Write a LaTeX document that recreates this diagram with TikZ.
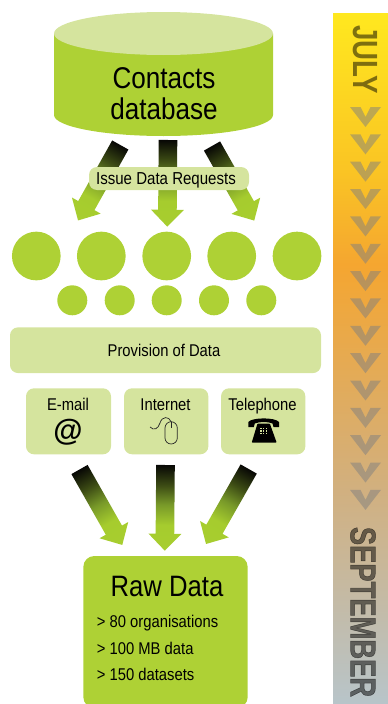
\documentclass[tikz,border=0pt]{standalone}
\usepackage{fontspec}
\usetikzlibrary{calc}
\setmainfont{Liberation Sans}
\newfontfamily\condf[FakeStretch=0.87]{Liberation Sans}
\newfontfamily\barf[FakeStretch=0.79]{Liberation Sans Bold}
\newfontfamily\barfb[FakeStretch=0.76,FakeBold=1.2]{Liberation Sans Bold}
\definecolor{lime}{HTML}{AED135}
\definecolor{pale}{HTML}{D5E49E}
\pgfdeclarehorizontalshading{arrowgrad}{100bp}{rgb(0bp)=(0.03,0.03,0.02); rgb(25bp)=(0.03,0.03,0.02); rgb(37bp)=(0.24,0.30,0.08); rgb(48bp)=(0.47,0.60,0.16); rgb(60bp)=(0.65,0.80,0.18); rgb(100bp)=(0.67,0.82,0.19)}
\pgfdeclareverticalshading{barshade}{100bp}{rgb(0bp)=(0.72,0.77,0.79); rgb(25bp)=(0.72,0.77,0.79); rgb(40.5bp)=(0.82,0.69,0.50); rgb(56.75bp)=(0.96,0.65,0.19); rgb(63.65bp)=(0.98,0.77,0.14); rgb(75bp)=(1,0.91,0.12); rgb(100bp)=(1,0.91,0.12)}
\newcommand{\blockarrow}[2]{%
  \path let \p1=($(#2)-(#1)$), \n1={atan2(\y1,\x1)}, \n2={veclen(\x1,\y1)} in \pgfextra{\xdef\arang{\n1}\xdef\arlen{\n2}};
  \begin{scope}[transform canvas={shift={(#1)},rotate=\arang}]
    \pgfmathsetmacro{\arneck}{\arlen-17}
    \shade[shading=arrowgrad] (0,-9.3) -- (\arneck,-9.3) -- (\arneck,-16.5) -- (\arlen,0) -- (\arneck,16.5) -- (\arneck,9.3) -- (0,9.3) -- cycle;
  \end{scope}}
\tikzset{
  bigdot/.style={circle,fill=lime,minimum size=48.7pt,inner sep=0pt},
  smalldot/.style={circle,fill=lime,minimum size=30pt,inner sep=0pt},
  palebox/.style={fill=pale,rounded corners=8pt},
  lab/.style={font=\condf\fontsize{17}{17}\selectfont,inner sep=0pt,anchor=base},
  chev/.style={fill=gray,opacity=0.5},
  bartext/.style={rotate=-90,text=black,opacity=0.5,inner sep=0pt}
}
\begin{document}
\begin{tikzpicture}[x=1pt,y=-1pt]
\useasboundingbox (0,0) rectangle (388,704);
\clip (0,0) rectangle (388,704);
% time bar
\shade[shading=barshade] (333,13) rectangle (388,704);
\foreach \i in {0,...,14}{
  \pgfmathsetmacro{\ty}{107+27.35*\i}
  \fill[chev] (350,\ty) -- (360.5,\ty) -- (365.5,\ty+10) -- (370.5,\ty) -- (381,\ty) -- (365.5,\ty+20) -- cycle;
}
\node[bartext,font=\barf\fontsize{35}{35}\selectfont] (july) at (365.5,59.5) {JULY};
\node[bartext,font=\barfb\fontsize{36}{36}\selectfont] (sept) at (363,612) {SEPTEMBER};
% database
\fill[lime] (54,33.5) -- (54,115) arc[start angle=180,end angle=360,x radius=109.5,y radius=-21] -- (273,33.5) -- cycle;
\fill[pale] (163.5,33.5) ellipse[x radius=109.5,y radius=21.5];
\node[font=\condf\fontsize{30}{31}\selectfont,align=center,inner sep=0pt] (db) at (164,94) {Contacts\\database};
% arrows from the database
\coordinate (t1) at (120.3,145); \coordinate (h1) at (78,220.5);
\coordinate (t2) at (168,140);   \coordinate (h2) at (167.3,226.7);
\coordinate (t3) at (212,146);   \coordinate (h3) at (254.3,220.7);
\blockarrow{t1}{h1}\blockarrow{t2}{h2}\blockarrow{t3}{h3}
\node[palebox,minimum width=160pt,minimum height=23pt,inner sep=0pt] (issue) at (169,178.5) {};
\node[lab,font=\condf\fontsize{17.3}{17.3}\selectfont] (issuet) at (166,184) {Issue Data Requests};
% dots
\foreach \n/\x in {b1/36.3,b2/101.3,b3/166.7,b4/231.7,b5/297}
  \node[bigdot] (\n) at (\x,256) {};
\foreach \n/\x in {s1/72.3,s2/119.7,s3/166.7,s4/214,s5/261.3}
  \node[smalldot] (\n) at (\x,300.3) {};
% provision
\node[palebox,minimum width=311pt,minimum height=45.7pt,inner sep=0pt] (prov) at (165.5,350.2) {};
\node[lab] (provt) at (164,356.7) {Provision of Data};
\node[palebox,minimum width=85pt,minimum height=66pt,inner sep=0pt] (mail) at (68.5,421.3) {};
\node[palebox,minimum width=84.3pt,minimum height=66pt,inner sep=0pt] (net) at (166.2,421.3) {};
\node[palebox,minimum width=84.3pt,minimum height=66pt,inner sep=0pt] (tel) at (263.2,421.3) {};
\node[lab] (mailt) at (68,410) {E-mail};
\node[lab] (nett) at (165.5,410) {Internet};
\node[lab] (telt) at (262.5,410) {Telephone};
\node[font=\bfseries\fontsize{30}{30}\selectfont,inner sep=0pt] (at) at (68,432) {@};
% telephone icon
\fill[black] (248.3,427) -- (248.3,422) .. controls (252,417.2) and (275.3,417.2) .. (279,422) -- (279,427) -- (273.5,427) -- (272.5,423.5) .. controls (268,421.5) and (259.3,421.5) .. (254.8,423.5) -- (253.8,427) -- cycle;
\fill[black,rounded corners=0.8pt] (257.5,423.5) -- (269.8,423.5) -- (276.7,442.7) -- (251.7,442.7) -- cycle;
\foreach \kx in {260.8,263.6,266.4}
  \foreach \ky in {428.5,431,433.5}
    \fill[pale] (\kx-0.8,\ky-0.8) rectangle (\kx+0.8,\ky+0.8);
% mouse
\draw[line width=0.7pt,draw=black!85] (165,428) -- (165,438) arc[start angle=180,end angle=360,x radius=6.15,y radius=-6] -- (177.3,428) arc[start angle=0,end angle=180,x radius=6.15,y radius=-6.3] -- cycle;
\draw[line width=0.7pt,draw=black!85] (171.1,421.7) -- (171.1,428);
\draw[line width=0.7pt,draw=black!85] (150,427) .. controls (154,431) and (158,429) .. (160,423) .. controls (162,416) and (169,416) .. (171.1,421.7);
% arrows into raw data
\coordinate (t4) at (79.5,469.5); \coordinate (h4) at (122.3,545);
\coordinate (t5) at (165.5,465);  \coordinate (h5) at (164.8,550.7);
\coordinate (t6) at (248.7,469);  \coordinate (h6) at (206,544);
\blockarrow{t4}{h4}\blockarrow{t5}{h5}\blockarrow{t6}{h6}
% raw data
\node[fill=lime,rounded corners=11pt,minimum width=164.4pt,minimum height=152pt,inner sep=0pt] (raw) at (165.5,632) {};
\node[font=\condf\fontsize{29.5}{29.5}\selectfont,inner sep=0pt,anchor=base] (rawt) at (167,596) {Raw Data};
\node[lab,anchor=base west] (r1) at (96.7,627) {> 80 organisations};
\node[lab,anchor=base west] (r2) at (96.7,654) {> 100 MB data};
\node[lab,anchor=base west] (r3) at (96.7,680.7) {> 150 datasets};
\end{tikzpicture}
\end{document}
